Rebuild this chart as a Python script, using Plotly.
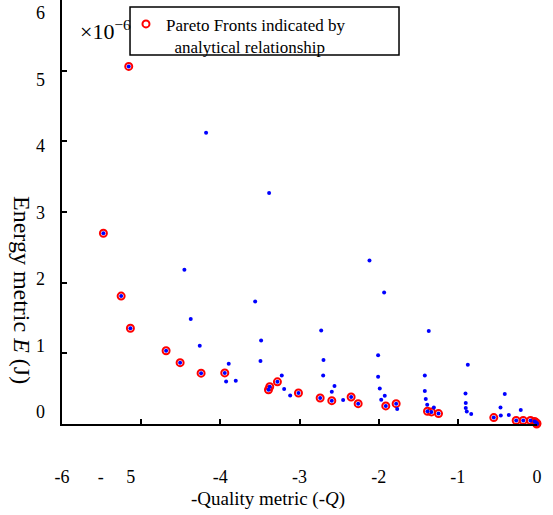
import plotly.graph_objects as go

# Pareto-front solutions (-Q, E in units of 1e-6 J)
pareto_q = [-5.157, -5.477, -5.253, -5.136, -4.685, -4.508, -4.243, -3.944,
            -3.392, -3.376, -3.279, -3.013, -2.739, -2.592, -2.348, -2.259,
            -1.910, -1.779, -1.383, -1.333, -1.244, -0.546, -0.263, -0.174,
            -0.082, -0.030, -0.012, 0.0, -0.004]
pareto_e = [5.06, 2.70, 1.81, 1.355, 1.037, 0.868, 0.719, 0.723,
            0.485, 0.527, 0.597, 0.438, 0.368, 0.330, 0.382, 0.288,
            0.256, 0.288, 0.180, 0.171, 0.147, 0.091, 0.049, 0.049,
            0.049, 0.035, 0.020, 0.008, 0.0]

# Other (dominated) solutions
other_q = [-4.180, -3.384, -4.454, -2.116, -3.560, -4.374, -4.260, -3.894,
           -3.927, -3.805, -3.485, -3.493, -3.224, -3.194, -3.118, -1.931,
           -2.726, -2.697, -2.701, -2.558, -2.592, -2.449, -2.007, -2.007,
           -1.986, -1.923, -1.968, -1.766, -1.367, -1.417, -1.417, -1.405,
           -1.387, -1.303, -0.874, -0.903, -0.900, -0.900, -0.887, -0.831,
           -0.407, -0.461, -0.457, -0.356, -0.205]
other_e = [4.12, 3.27, 2.184, 2.315, 1.735, 1.486, 1.107, 0.854,
           0.601, 0.611, 1.183, 0.892, 0.686, 0.494, 0.405, 1.861,
           1.323, 0.906, 0.686, 0.536, 0.456, 0.340, 0.972, 0.667,
           0.503, 0.400, 0.344, 0.213, 1.317, 0.686, 0.466, 0.354,
           0.274, 0.232, 0.840, 0.433, 0.298, 0.227, 0.176, 0.143,
           0.424, 0.232, 0.119, 0.129, 0.199]

x_ticks = [-6, -5, -4, -3, -2, -1, 0]
x_ticktext = ["-6", "-\u00a0\u00a0\u00a0\u00a0\u00a05" + "\u00a0" * 11, "-4", "-3", "-2", "-1", "0"]
y_ticks = [0, 1, 2, 3, 4, 5, 6]
y_ticktext = ["0", "1", "2", "3", "4", "5", "6"]

FONT = "Liberation Serif, Times New Roman, serif"

fig = go.Figure()
fig.add_trace(go.Scatter(
    x=pareto_q, y=pareto_e, mode="markers",
    name="Pareto Fronts indicated by<br>\u00a0\u00a0analytical relationship",
    marker=dict(symbol="circle-open", size=7, color="#ff0000",
                line=dict(width=2, color="#ff0000")),
    cliponaxis=False, showlegend=True,
))
fig.add_trace(go.Scatter(
    x=other_q + pareto_q, y=other_e + pareto_e, mode="markers",
    marker=dict(symbol="circle", size=4, color="#0000ff", line=dict(width=0)),
    cliponaxis=False, showlegend=False,
))
# empty trace so the label-only y axis is drawn
fig.add_trace(go.Scatter(x=[], y=[], yaxis="y2", mode="markers",
                         showlegend=False, hoverinfo="skip"))

fig.update_layout(
    width=553, height=515,
    margin=dict(l=62, r=16, t=0, b=91),
    paper_bgcolor="white", plot_bgcolor="rgba(0,0,0,0)",
    font=dict(family=FONT, size=18, color="black"),
    showlegend=True,
    legend=dict(x=0.1347, y=0.985, xanchor="left", yanchor="top",
                bgcolor="rgba(0,0,0,0)", borderwidth=0, valign="top",
                font=dict(family=FONT, size=17, color="black"),
                tracegroupgap=0, itemsizing="trace"),
    xaxis=dict(range=[-6, 0], tickvals=x_ticks, ticktext=x_ticktext,
               showgrid=False, zeroline=False, showline=True, linecolor="black",
               linewidth=1.5, ticks="inside", ticklen=5, tickwidth=1.5,
               tickcolor="black", ticklabelstandoff=36, automargin=False,
               tickfont=dict(family=FONT, size=18)),
    yaxis=dict(range=[0, 6], tickvals=y_ticks, showticklabels=False,
               showgrid=False, zeroline=False, automargin=False,
               showline=True, linecolor="black", linewidth=1.5,
               ticks="inside", ticklen=5, tickwidth=1.5, tickcolor="black"),
    # label-only axis reproducing the slightly compressed label spacing of the original
    yaxis2=dict(range=[0, 6], domain=[0.0283, 0.9693], anchor="x", side="left",
                tickvals=y_ticks, ticktext=y_ticktext, showgrid=False,
                zeroline=False, showline=False, ticks="", ticklabelstandoff=16,
                ticklabeloverflow="allow", automargin=False,
                tickfont=dict(family=FONT, size=18)),
    shapes=[dict(type="rect", xref="paper", yref="paper",
                 x0=0.1432, x1=0.7095, y0=0.8703, y1=0.9835,
                 line=dict(color="black", width=1.5), fillcolor="rgba(0,0,0,0)",
                 layer="above")],
    annotations=[
        dict(text="\u00d710<sup>\u22126</sup>", xref="paper", yref="paper",
             x=0.1495, y=0.93, xanchor="right", yanchor="middle",
             showarrow=False, font=dict(family=FONT, size=22)),
        dict(text="Energy metric <i>E</i> (J)", xref="paper", yref="paper",
             x=-0.0842, y=0.316, xanchor="center", yanchor="middle",
             textangle=90, showarrow=False, font=dict(family=FONT, size=24)),
        dict(text="-Quality metric (-<i>Q</i>)", xref="paper", yref="paper",
             x=0.4347, y=-0.177, xanchor="center", yanchor="middle",
             showarrow=False, font=dict(family=FONT, size=19)),
    ],
)

fig.write_html("out.html")
